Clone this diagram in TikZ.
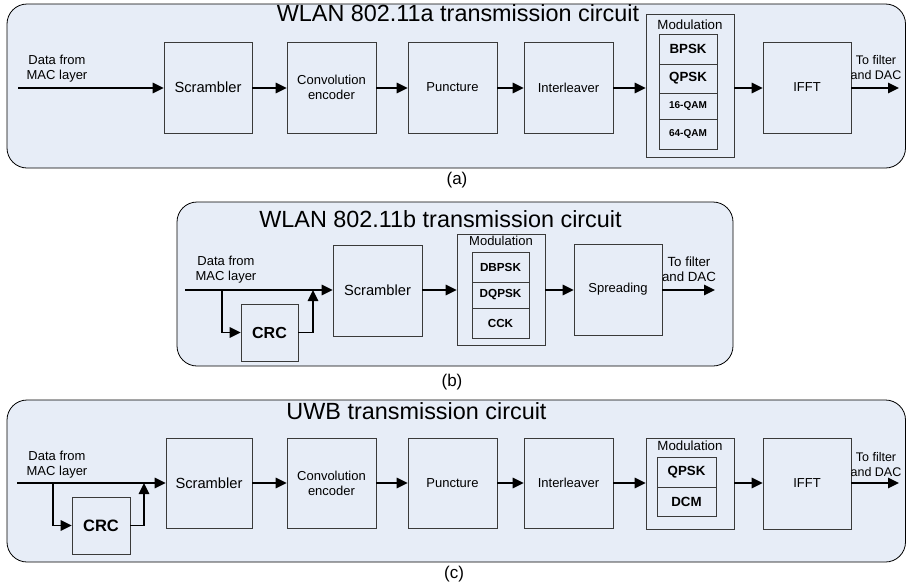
\documentclass[tikz,border=0pt]{standalone}
\usepackage{fontspec}
\setmainfont{Liberation Sans}
\usetikzlibrary{arrows.meta}
\definecolor{panelfill}{HTML}{E7EDF7}
\definecolor{boxline}{HTML}{3A3A3A}

\begin{document}
\begin{tikzpicture}[x=1pt,y=-1pt,
  panel/.style={draw=black, line width=0.8pt, fill=panelfill, rounded corners=20pt},
  blk/.style={draw=boxline, line width=0.8pt, minimum height=91pt, inner sep=0pt,
    align=center, font=\fontsize{13}{15}\selectfont},
  modbox/.style={draw=boxline, line width=0.8pt, inner sep=0pt},
  sub/.style={draw=boxline, line width=0.8pt, inner sep=0pt, font=\bfseries\fontsize{13.3}{15}\selectfont},
  subsmall/.style={sub, font=\bfseries\fontsize{10}{12}\selectfont},
  title/.style={anchor=base, inner sep=0pt, font=\fontsize{23.4}{26}\selectfont},
  caption/.style={inner sep=0pt, font=\fontsize{17}{19}\selectfont},
  lbl/.style={inner sep=0pt, align=center, font=\fontsize{13}{15}\selectfont},
  modlbl/.style={inner sep=0pt, font=\fontsize{13.3}{15}\selectfont},
  arr/.style={-{Triangle[length=11pt,width=10.5pt]}, line width=1.6pt},
  crcbox/.style={draw=boxline, line width=0.8pt, inner sep=0pt, font=\bfseries\fontsize{16}{19}\selectfont}
]
\useasboundingbox (0,0) rectangle (907,584);

% ---------------- (a) WLAN 802.11a ----------------
\draw[panel] (7,4) rectangle (905.5,168);
\node[title] (titleA) at (458,21) {WLAN 802.11a transmission circuit};
\node[caption] (capA) at (457,180) {(a)};

\node[blk, minimum width=88pt] (scrA) at (208,87.5) {\fontsize{14.7}{16}\selectfont Scrambler};
\node[blk, minimum width=89pt] (convA) at (331.5,87.5) {Convolution\\encoder};
\node[blk, minimum width=89pt] (puncA) at (452.5,87.5) {Puncture};
\node[blk, minimum width=89pt] (intA) at (568.5,87.5) {Interleaver};
\node[modbox, minimum width=88pt, minimum height=143pt] (modA) at (690,85.5) {};
\node[modlbl] (modlblA) at (690,25) {Modulation};
\node[sub, minimum width=58pt, minimum height=30pt] (bpskA) at (688,49) {BPSK};
\node[sub, minimum width=58pt, minimum height=29pt] (qpskA) at (688,78.5) {QPSK};
\node[subsmall, minimum width=58pt, minimum height=26pt] (q16A) at (688,106) {16-QAM};
\node[subsmall, minimum width=58pt, minimum height=30pt] (q64A) at (688,134) {64-QAM};
\node[blk, minimum width=88pt] (ifftA) at (807,87.5) {IFFT};

\node[lbl] (srcA) at (57,69) {Data from\\MAC layer};
\node[lbl, font=\fontsize{12.5}{15}\selectfont] (dstA) at (876,68) {To filter\\and DAC};
\coordinate (inA) at (18,88);
\coordinate (outA) at (899,88);

\draw[arr] (inA) -- (inA -| scrA.west);
\draw[arr] (scrA.east |- inA) -- (convA.west |- inA);
\draw[arr] (convA.east |- inA) -- (puncA.west |- inA);
\draw[arr] (puncA.east |- inA) -- (intA.west |- inA);
\draw[arr] (intA.east |- inA) -- (modA.west |- inA);
\draw[arr] (modA.east |- inA) -- (ifftA.west |- inA);
\draw[arr] (ifftA.east |- inA) -- (outA);

% ---------------- (b) WLAN 802.11b ----------------
\draw[panel] (177,202) rectangle (733,366);
\node[title] (titleB) at (440.5,227) {WLAN 802.11b transmission circuit};
\node[caption] (capB) at (452,382) {(b)};

\node[blk, minimum width=89pt] (scrB) at (377.5,290.5) {\fontsize{14.7}{16}\selectfont Scrambler};
\node[modbox, minimum width=88pt, minimum height=111pt] (modB) at (501,289.5) {};
\node[modlbl, font=\fontsize{13}{15}\selectfont] (modlblB) at (501,241) {Modulation};
\node[sub, font=\bfseries\fontsize{11.7}{13}\selectfont, minimum width=57pt, minimum height=30pt] (dbpskB) at (500.5,267) {DBPSK};
\node[sub, font=\bfseries\fontsize{11.7}{13}\selectfont, minimum width=57pt, minimum height=26pt] (dqpskB) at (500.5,295) {DQPSK};
\node[sub, font=\bfseries\fontsize{11.7}{13}\selectfont, minimum width=57pt, minimum height=30pt] (cckB) at (500.5,323) {CCK};
\node[blk, minimum width=88pt] (sprB) at (618,289.5) {Spreading};
\node[crcbox, minimum width=57pt, minimum height=57pt] (crcB) at (269.5,332.5) {CRC};

\node[lbl] (srcB) at (226,269.5) {Data from\\MAC layer};
\node[lbl, font=\fontsize{13.3}{15}\selectfont] (dstB) at (689,269.5) {To filter\\and DAC};
\coordinate (inB) at (185,290);
\coordinate (brB) at (222,290);
\coordinate (jB) at (313,290);
\coordinate (outB) at (715,290);

\draw[arr] (inB) -- (inB -| scrB.west);
\draw[arr] (brB) |- (crcB.west);
\draw[arr] (crcB.east) -| (jB);
\draw[arr] (scrB.east |- inB) -- (modB.west |- inB);
\draw[arr] (modB.east |- inB) -- (sprB.west |- inB);
\draw[arr] (sprB.east |- inB) -- (outB);

% ---------------- (c) UWB ----------------
\draw[panel] (7,400) rectangle (905.5,562);
\node[title] (titleC) at (416.5,419) {UWB transmission circuit};
\node[caption] (capC) at (454,574) {(c)};

\node[blk, minimum width=86pt, minimum height=90pt] (scrC) at (209,483) {\fontsize{14.7}{16}\selectfont Scrambler};
\node[blk, minimum width=89pt, minimum height=90pt] (convC) at (331.5,483) {Convolution\\encoder};
\node[blk, minimum width=89pt, minimum height=90pt] (puncC) at (452.5,483) {Puncture};
\node[blk, minimum width=89pt, minimum height=90pt] (intC) at (568.5,483) {Interleaver};
\node[modbox, minimum width=88pt, minimum height=91pt] (modC) at (690,483.5) {};
\node[modlbl] (modlblC) at (690,446) {Modulation};
\node[sub, minimum width=59pt, minimum height=30pt] (qpskC) at (686.5,472) {QPSK};
\node[sub, minimum width=59pt, minimum height=29pt] (dcmC) at (686.5,501.5) {DCM};
\node[blk, minimum width=88pt, minimum height=91pt] (ifftC) at (807,483.5) {IFFT};
\node[crcbox, font=\bfseries\fontsize{16.5}{19}\selectfont, minimum width=58pt, minimum height=57pt] (crcC) at (101,525.5) {CRC};

\node[lbl] (srcC) at (57,464.5) {Data from\\MAC layer};
\node[lbl, font=\fontsize{12.5}{15}\selectfont] (dstC) at (876,464.5) {To filter\\and DAC};
\coordinate (inC) at (17,483);
\coordinate (brC) at (53,483);
\coordinate (jC) at (144,483);
\coordinate (outC) at (899,483);

\draw[arr] (inC) -- (inC -| scrC.west);
\draw[arr] (brC) |- (crcC.west);
\draw[arr] (crcC.east) -| (jC);
\draw[arr] (scrC.east |- inC) -- (convC.west |- inC);
\draw[arr] (convC.east |- inC) -- (puncC.west |- inC);
\draw[arr] (puncC.east |- inC) -- (intC.west |- inC);
\draw[arr] (intC.east |- inC) -- (modC.west |- inC);
\draw[arr] (modC.east |- inC) -- (ifftC.west |- inC);
\draw[arr] (ifftC.east |- inC) -- (outC);
\end{tikzpicture}
\end{document}
